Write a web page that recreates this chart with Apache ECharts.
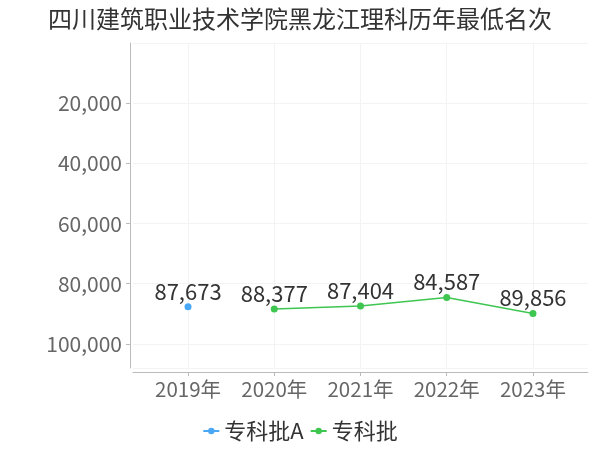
<!DOCTYPE html>
<html><head><meta charset="utf-8">
<script src="https://cdn.jsdelivr.net/npm/echarts@6/dist/echarts.min.js"></script>
<style>html,body{margin:0;padding:0;background:#fff}#c{width:600px;height:450px}</style>
</head><body><div id="c"></div>
<script>
const title = '四川建筑职业技术学院黑龙江理科历年最低名次';
const categories = ['2019年', '2020年', '2021年', '2022年', '2023年'];
const seriesNames = ['专科批A', '专科批'];
const valuesA = [87673, null, null, null, null];
const valuesB = [null, 88377, 87404, 84587, 89856];
const yTicks = [0, 20000, 40000, 60000, 80000, 100000];

const font = 'Noto Sans CJK SC, sans-serif';
function toPairs(arr){ return arr.map((v,i)=> v==null ? null : [i, v]).filter(p=>p); }
const idx = categories.map((c,i)=>i);

const chart = echarts.init(document.getElementById('c'));
chart.setOption({
  animation: false,
  title: { text: title, left: 'center', top: 2, textStyle: { fontFamily: font, fontSize: 24, fontWeight: 'normal', color: '#333' } },
  legend: { bottom: 3, left: 'center', itemWidth: 16, itemHeight: 8, itemGap: 6,
    textStyle: { fontFamily: font, fontSize: 22, color: '#333' }, data: seriesNames },
  grid: { left: 133, right: 12, top: 43, bottom: 82 },
  xAxis: {
    type: 'value', position: 'bottom', min: -0.638, max: 4.638, offset: 4,
    axisLine: { show: true, onZero: false, lineStyle: { color: '#bbb' } },
    axisTick: { show: true, customValues: idx, length: 4, lineStyle: { color: '#bbb' } },
    axisLabel: { customValues: idx, formatter: v => categories[Math.round(v)], fontFamily: font, fontSize: 20.5, color: '#666', margin: 7 },
    splitLine: { show: true, lineStyle: { color: '#f3f3f3' } }
  },
  yAxis: {
    type: 'value', position: 'left', inverse: true, min: 0, max: 108000, interval: 20000, offset: 3,
    axisLine: { show: true, onZero: false, lineStyle: { color: '#bbb' } },
    axisTick: { show: true, length: 4, lineStyle: { color: '#bbb' } },
    axisLabel: { showMaxLabel: false, showMinLabel: false, fontFamily: font, fontSize: 21, color: '#666', margin: 8,
      formatter: v => v.toLocaleString('en-US') },
    splitLine: { show: true, lineStyle: { color: '#f3f3f3' } }
  },
  series: [
    { name: seriesNames[0], type: 'line', data: toPairs(valuesA), symbol: 'circle', symbolSize: 7,
      itemStyle: { color: '#4aa8f5' }, lineStyle: { color: '#4aa8f5', width: 1.5 },
      label: { show: true, position: 'top', distance: 1, fontFamily: font, fontSize: 22, color: '#333',
        formatter: p => p.value[1].toLocaleString('en-US') } },
    { name: seriesNames[1], type: 'line', data: toPairs(valuesB), symbol: 'circle', symbolSize: 7,
      itemStyle: { color: '#3ec651' }, lineStyle: { color: '#3ec651', width: 1.5 },
      label: { show: true, position: 'top', distance: 1, fontFamily: font, fontSize: 22, color: '#333',
        formatter: p => p.value[1].toLocaleString('en-US') } }
  ]
});
</script></body></html>
